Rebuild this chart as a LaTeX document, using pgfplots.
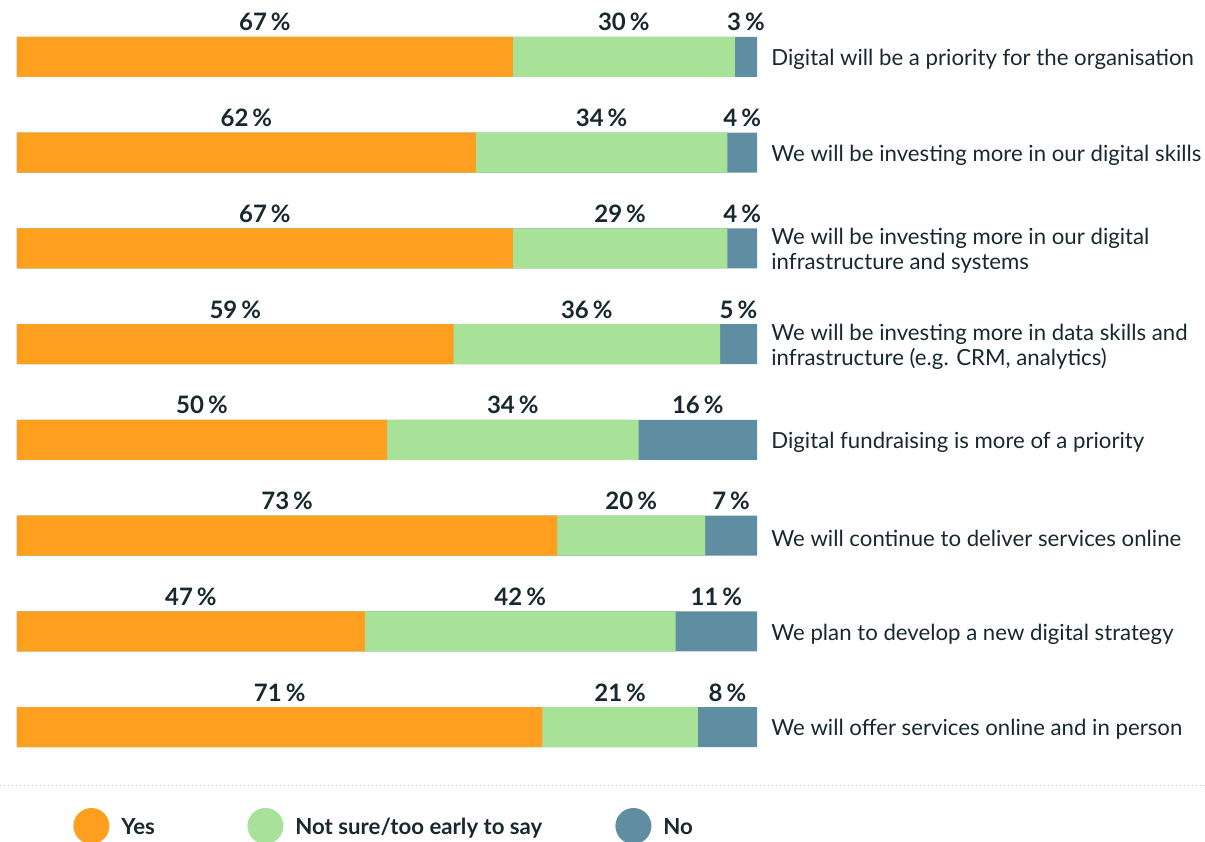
\documentclass[border=0pt]{standalone}
\usepackage{pgfplots}
\pgfplotsset{compat=1.18}
\usepackage{pgfplotstable}
\usepackage{fontspec}
\setmainfont{Lato}
\definecolor{cyes}{HTML}{FF9F1F}
\definecolor{cuns}{HTML}{A8E298}
\definecolor{cno}{HTML}{5F8EA2}
\definecolor{ctxt}{HTML}{17292E}
\pgfplotstableread{
row yes unsure no
1 67 30 3
2 62 34 4
3 67 29 4
4 59 36 5
5 50 34 16
6 73 20 7
7 47 42 11
8 71 21 8
}\data
\begin{document}
\begin{tikzpicture}
\useasboundingbox (0,0) rectangle (602.5pt,-420.5pt);
\draw[ctxt!25, dash pattern=on 0.5pt off 1.5pt, line width=0.5pt] (0,-392.5pt) -- (602.5pt,-392.5pt);
\begin{axis}[
  at={(8.5pt,-4.55pt)}, anchor=north west,
  scale only axis, width=370pt, height=382.9pt,
  xmin=0, xmax=100, ymin=0.5, ymax=8.5, y dir=reverse,
  axis line style={draw=none}, tick style={draw=none},
  xtick=\empty,
  ytick={1,...,8},
  yticklabels={
    {Digital will be a priority for the organisation},
    {We will be investing more in our digital skills},
    {We will be investing more in our digital\\infrastructure and systems},
    {We will be investing more in data skills and\\infrastructure (e.g. CRM, analytics)},
    {Digital fundraising is more of a priority},
    {We will continue to deliver services online},
    {We plan to develop a new digital strategy},
    {We will offer services online and in person}},
  yticklabel pos=right,
  yticklabel style={anchor=west, align=left, inner sep=0pt, xshift=7pt, yshift=-1.3pt,
    font=\fontsize{11.1}{12.5}\selectfont, text=ctxt},
  clip=false,
  reverse legend,
  legend style={at={(0.0757,-0.0667)}, anchor=west, draw=none, fill=none,
    legend columns=3, inner sep=0pt, column sep=0pt,
    nodes={inner sep=0pt, text depth=0pt},
    cells={anchor=west},
    font=\bfseries\fontsize{11.1}{13}\selectfont, text=ctxt},
  legend image code/.code={\fill[#1,draw=none] (9pt,0pt) circle (9pt);},
  nodes near coords={\pgfmathprintnumber[assume math mode=true]{\pgfplotspointmeta}\,\%},
  every node near coord/.style={anchor=base, yshift=13pt, inner sep=0pt,
    font=\bfseries\fontsize{12}{14}\selectfont, text=ctxt},
]
\addplot[xbar, bar width=20pt, bar shift=0pt, fill=cno, draw=none, nodes near coords={}]
  table[x expr=\thisrow{yes}+\thisrow{unsure}+\thisrow{no}, y=row]{\data};
\addlegendentry{\hspace*{6pt}No}
\addplot[xbar, bar width=20pt, bar shift=0pt, fill=cuns, draw=none, nodes near coords={}]
  table[x expr=\thisrow{yes}+\thisrow{unsure}, y=row]{\data};
\addlegendentry{\makebox[166pt][l]{\hspace*{6pt}Not sure/too early to say}}
\addplot[xbar, bar width=20pt, bar shift=0pt, fill=cyes, draw=none, nodes near coords={}]
  table[x=yes, y=row]{\data};
\addlegendentry{\makebox[69pt][l]{\hspace*{6pt}Yes}}
% value labels centred above each segment
\addplot[draw=none, mark=none, forget plot, point meta=\thisrow{yes}]
  table[x expr=\thisrow{yes}/2, y=row]{\data};
\addplot[draw=none, mark=none, forget plot, point meta=\thisrow{unsure}]
  table[x expr=\thisrow{yes}+\thisrow{unsure}/2, y=row]{\data};
\addplot[draw=none, mark=none, forget plot, point meta=\thisrow{no}]
  table[x expr=\thisrow{yes}+\thisrow{unsure}+\thisrow{no}/2, y=row]{\data};
\end{axis}
\end{tikzpicture}
\end{document}
